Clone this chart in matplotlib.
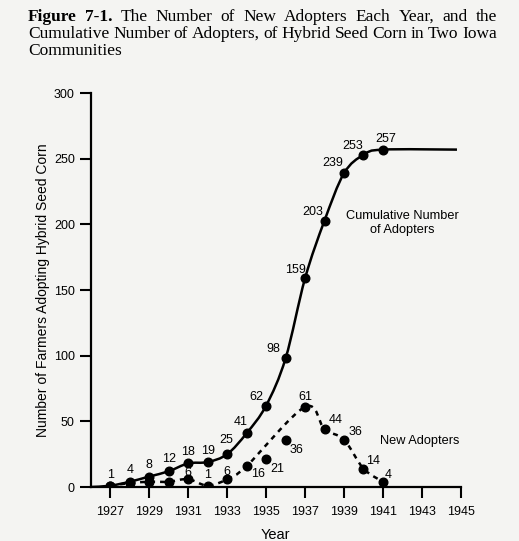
import numpy as np
import matplotlib.pyplot as plt
from matplotlib.path import Path
from matplotlib.patches import PathPatch

years = [1927, 1928, 1929, 1930, 1931, 1932, 1933, 1934, 1935, 1936, 1937, 1938, 1939, 1940, 1941]
cumulative = [1, 4, 8, 12, 18, 19, 25, 41, 62, 98, 159, 203, 239, 253, 257]
new_adopters = [1, 3, 4, 4, 6, 1, 6, 16, 21, 36, 61, 44, 36, 14, 4]
# years whose new-adopter label is printed
new_labelled = [1931, 1932, 1933, 1934, 1935, 1936, 1937, 1938, 1939, 1940, 1941]
# the dotted trend skips these two years
trend_skip = [1935, 1936]
xticks = list(range(1927, 1946, 2))
yticks = [0, 50, 100, 150, 200, 250, 300]

title_lines = [
    [('Figure', 'bold'), ('7-1.', 'bold'), ('The', 'normal'), ('Number', 'normal'), ('of', 'normal'),
     ('New', 'normal'), ('Adopters', 'normal'), ('Each', 'normal'), ('Year,', 'normal'),
     ('and', 'normal'), ('the', 'normal')],
    [(w, 'normal') for w in 'Cumulative Number of Adopters, of Hybrid Seed Corn in Two Iowa'.split()],
    [('Communities', 'normal')],
]

plt.rcParams['font.family'] = ['Liberation Sans', 'DejaVu Sans']
bg = '#f4f4f2'
W, H = 519, 541
fig = plt.figure(figsize=(W / 100, H / 100), dpi=100, facecolor=bg)
ax = fig.add_axes([0.175, 0.0998, 0.713, 0.728], facecolor=bg)
ax.set_xlim(1926, 1945)
ax.set_ylim(0, 300)


def smooth(xs, ys):
    # catmull-rom curve through the points, as cubic bezier segments
    p = np.column_stack([xs, ys]).astype(float)
    q = np.vstack([p[:1], p, p[-1:]])
    verts = [p[0]]
    codes = [Path.MOVETO]
    for i in range(1, len(q) - 2):
        c1 = q[i] + (q[i + 1] - q[i - 1]) / 6
        c2 = q[i + 1] - (q[i + 2] - q[i]) / 6
        verts += [c1, c2, q[i + 1]]
        codes += [Path.CURVE4] * 3
    return Path(verts, codes)


# cumulative curve, from zero the year before to a flat tail after 1941
cx = [1926] + years + [1944.8]
cy = [0] + cumulative + [cumulative[-1]]
ax.add_patch(PathPatch(smooth(cx, cy), fill=False, edgecolor='black', lw=1.8))
ax.plot(years, cumulative, 'o', color='black', ms=6.2)

tx = [y for y in years if y not in trend_skip]
ty = [v for y, v in zip(years, new_adopters) if y not in trend_skip]
ax.add_patch(PathPatch(smooth(tx, ty), fill=False, edgecolor='black', lw=1.8,
                       linestyle=(0, (2.0, 2.0))))
ax.plot(years, new_adopters, 'o', color='black', ms=6.2)

# label offsets in pixels (dx, dy up)
cum_off = {1927: (0, 11), 1928: (0, 12), 1929: (0, 12), 1930: (0, 12), 1931: (0, 11),
           1932: (0, 11), 1933: (-1, 14), 1934: (-6, 11), 1935: (-10, 9), 1936: (-12, 9),
           1937: (-10, 8), 1938: (-12, 9), 1939: (-11, 10), 1940: (-11, 9), 1941: (3, 11)}
new_off = {1931: (0, 6.5), 1932: (0, 11), 1933: (0, 7), 1934: (11, -8), 1935: (11, -10),
           1936: (11, -10), 1937: (0, 10), 1938: (11, 9), 1939: (11, 8), 1940: (10, 8),
           1941: (5, 7)}
pt = 72 / 100
for y, v in zip(years, cumulative):
    dx, dy = cum_off[y]
    ax.annotate(str(v), (y, v), xytext=(dx * pt, dy * pt), textcoords='offset points',
                ha='center', va='center', fontsize=9)
for y, v in zip(years, new_adopters):
    if y in new_labelled:
        dx, dy = new_off[y]
        ax.annotate(str(v), (y, v), xytext=(dx * pt, dy * pt), textcoords='offset points',
                    ha='center', va='center', fontsize=9, zorder=5)

ax.text(1942.0, 201, 'Cumulative Number\nof Adopters', ha='center', va='center',
        fontsize=9.2, linespacing=1.15)
ax.text(1942.9, 35, 'New Adopters', ha='center', va='center', fontsize=9.2)

ax.set_xticks(xticks)
ax.set_yticks(yticks)
ax.tick_params(direction='out', length=8, width=1.5, labelsize=9)
ax.tick_params(axis='x', pad=6)
for s in ['top', 'right']:
    ax.spines[s].set_visible(False)
for s in ['left', 'bottom']:
    ax.spines[s].set_linewidth(1.6)
ax.set_xlabel('Year', fontsize=10.5, labelpad=7)
ax.set_ylabel('Number of Farmers Adopting Hybrid Seed Corn', fontsize=10, labelpad=3)

# caption in serif, first two lines justified between x0 and x1 pixels
serif = ['Liberation Serif', 'DejaVu Serif']
renderer = fig.canvas.get_renderer()
x0, x1 = 28, 497
line_y = [17, 34, 51]
for k, words in enumerate(title_lines):
    texts = [fig.text(0, 1 - line_y[k] / H, w, fontsize=12.5, fontweight=fw, family=serif,
                      va='center') for w, fw in words]
    widths = [t.get_window_extent(renderer).width for t in texts]
    if len(texts) > 1:
        gap = (x1 - x0 - sum(widths)) / (len(texts) - 1)
    else:
        gap = 0
    x = x0
    for t, w in zip(texts, widths):
        t.set_x(x / W)
        x += w + gap

fig.savefig('out.png', dpi=100, facecolor=bg)
